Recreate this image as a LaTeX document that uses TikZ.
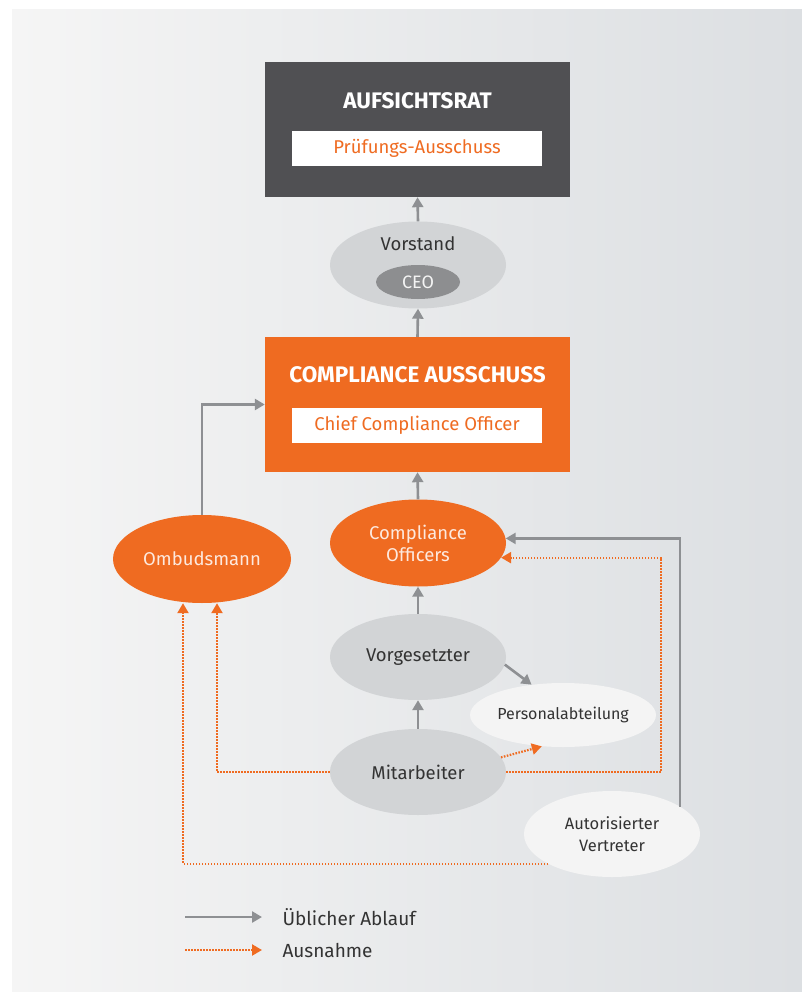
\documentclass[tikz,border=0pt]{standalone}
\usepackage{fontspec}
\setmainfont{Fira Sans}
\usepackage{xcolor}
\usetikzlibrary{arrows.meta,shapes.geometric}

\definecolor{dunkel}{HTML}{505053}
\definecolor{orangeA}{HTML}{EF6B21}
\definecolor{grauE}{HTML}{D2D4D6}
\definecolor{grauCEO}{HTML}{8D8E90}
\definecolor{weissE}{HTML}{F4F4F4}
\definecolor{pfeil}{HTML}{8E9093}
\definecolor{schrift}{HTML}{333333}
\definecolor{hgLinks}{HTML}{F5F5F5}
\definecolor{hgRechts}{HTML}{DCDFE2}

\begin{document}
\begin{tikzpicture}[x=1pt,y=-1pt,
		box/.style={rectangle,minimum width=305pt,minimum height=135pt,inner sep=0pt},
		innerbox/.style={rectangle,fill=white,minimum width=250pt,minimum height=35pt,inner sep=0pt,text=orangeA,font=\fontsize{18.5}{21}\selectfont},
		titel/.style={text=white,font=\bfseries\fontsize{22.5}{26}\selectfont},
		oval/.style={ellipse,minimum width=176pt,minimum height=87pt,inner sep=0pt,font=\fontsize{18.5}{22}\selectfont,align=center},
		flow/.style={draw=pfeil,line width=2.6pt,-{Triangle[length=10pt,width=11pt]}},
		ausnahme/.style={draw=orangeA,line width=2.2pt,dash pattern=on 1.6pt off 1.4pt,-{Triangle[length=10pt,width=11pt]}}]
		\fill[white] (0,0) rectangle (802,992);
		\shade[left color=hgLinks,right color=hgRechts] (12,10) rectangle (802,992);
		\useasboundingbox (0,0) rectangle (802,992);
		
		\node[box,fill=dunkel] (aufsichtsrat) at (417.5,129.5) {};
		\node[titel] (aufsichtsratTitel) at (417.5,101) {AUFSICHTSRAT};
		\node[innerbox] (pruefung) at (417,148.5) {Prüfungs-Ausschuss};
		
		\node[oval,fill=grauE] (vorstand) at (418,265) {};
		\node[text=schrift,font=\fontsize{18.5}{22}\selectfont] (vorstandTitel) at (418,244) {Vorstand};
		\node[ellipse,fill=grauCEO,minimum width=84pt,minimum height=34pt,inner sep=0pt,text=white!90!grauCEO,font=\fontsize{18}{20}\selectfont] (ceo) at (418,282) {CEO};
		
		\node[box,fill=orangeA] (ausschuss) at (417.5,404.5) {};
		\node[titel] (ausschussTitel) at (417.5,375) {COMPLIANCE AUSSCHUSS};
		\node[innerbox] (cco) at (417,425.5) {Chief Compliance Officer};
		
		\node[oval,fill=orangeA,text=white!85!orangeA] (officers) at (418,543) {Compliance\\Officers};
		\node[oval,fill=orangeA,text=white!85!orangeA,minimum width=178pt,minimum height=88pt] (ombudsmann) at (202,559) {Ombudsmann};
		\node[oval,fill=grauE,text=schrift,minimum height=86pt] (vorgesetzter) at (418,657) {Vorgesetzter};
		\node[oval,fill=weissE,text=schrift,minimum width=180pt,minimum height=64pt,font=\fontsize{16}{19}\selectfont] (personal) at (563,715) {Personalabteilung};
		\node[oval,fill=grauE,text=schrift,minimum height=86pt] (mitarbeiter) at (418,772) {Mitarbeiter};
		\node[oval,fill=weissE,text=schrift,minimum height=86pt,font=\fontsize{16.5}{22}\selectfont] (vertreter) at (612,834) {Autorisierter\\Vertreter};
		
		\draw[flow] (vorstand.north) -- (aufsichtsrat.south);
		\draw[flow] (ausschuss.north) -- (vorstand.south);
		\draw[flow] (officers.north) -- (ausschuss.south);
		\draw[flow] (vorgesetzter.north) -- (officers.south);
		\draw[flow] (mitarbeiter.north) -- (vorgesetzter.south);
		\draw[flow] (ombudsmann.north) |- (ausschuss.west);
		\draw[flow] (vorgesetzter.-5) -- (personal.136);
		\draw[flow] (vertreter.22) |- (officers.3);
		\draw[ausnahme] (mitarbeiter.10) -- (personal.236);
		\draw[ausnahme] (mitarbeiter.east) -- (661,772) |- (officers.-10);
		\draw[ausnahme] (mitarbeiter.west) -| ([xshift=15pt]ombudsmann.south);
		\draw[ausnahme] (vertreter.205) -| ([xshift=-19pt]ombudsmann.south);
		
		\coordinate (legA) at (185,917);
		\coordinate (legB) at (185,950);
		\coordinate (legAende) at (262,917);
		\coordinate (legBende) at (262,950);
		\node[anchor=west,text=schrift,font=\fontsize{19}{22}\selectfont] (ablauf) at (279,917) {Üblicher Ablauf};
		\node[anchor=west,text=schrift,font=\fontsize{19}{22}\selectfont] (ausnahmeText) at (279,950) {Ausnahme};
		\draw[flow] (legA) -- (legAende);
		\draw[ausnahme] (legB) -- (legBende);
\end{tikzpicture}
\end{document}
